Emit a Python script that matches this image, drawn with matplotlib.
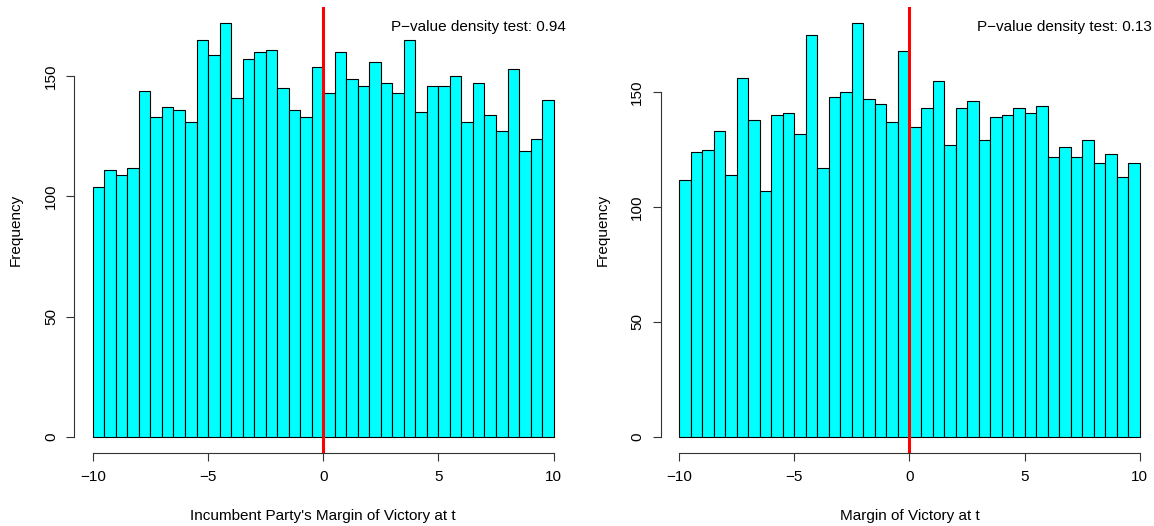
import numpy as np
import matplotlib.pyplot as plt

plt.rcParams["font.family"] = ["Liberation Sans", "DejaVu Sans"]
plt.rcParams["font.size"] = 11

# histogram bins: 40 bins of width 0.5 between -10 and 10
bin_edges = np.linspace(-10, 10, 41)

# left panel: incumbent party's margin of victory at t
incumbent_counts = [
    104, 111, 109, 112, 144, 133, 137, 136, 131, 165,
    159, 172, 141, 157, 160, 161, 145, 136, 133, 154,
    143, 160, 149, 146, 156, 147, 143, 165, 135, 146,
    146, 150, 131, 147, 134, 127, 153, 119, 124, 140,
]
incumbent_pvalue = 0.94

# right panel: margin of victory at t
margin_counts = [
    112, 124, 125, 133, 114, 156, 138, 107, 140, 141,
    132, 175, 117, 148, 150, 180, 147, 145, 137, 168,
    135, 143, 155, 127, 143, 146, 129, 139, 140, 143,
    141, 144, 122, 126, 122, 129, 119, 123, 113, 119,
]
margin_pvalue = 0.13

x_ticks = [-10, -5, 0, 5, 10]
y_ticks = [0, 50, 100, 150]


def plot_margin_histogram(ax, counts, pvalue, xlabel):
    '''
    draw one r-style histogram with a cutoff line at zero
    '''

    counts = np.asarray(counts)
    widths = np.diff(bin_edges)

    ax.bar(
        bin_edges[:-1],
        counts,
        width=widths,
        align="edge",
        color="#00ffff",
        edgecolor="black",
        linewidth=0.8,
        zorder=2,
    )

    ax.axvline(
        0,
        color="red",
        linewidth=2.2,
        zorder=3,
    )

    # r pads the data range by 4% on each side
    x_pad = 0.04 * (bin_edges[-1] - bin_edges[0])
    y_pad = 0.04 * counts.max()
    ax.set_xlim(bin_edges[0] - x_pad, bin_edges[-1] + x_pad)
    ax.set_ylim(-y_pad, counts.max() + y_pad)

    for side in ["top", "right"]:
        ax.spines[side].set_visible(False)
    ax.spines["left"].set_bounds(y_ticks[0], y_ticks[-1])
    ax.spines["bottom"].set_bounds(x_ticks[0], x_ticks[-1])
    for side in ["left", "bottom"]:
        ax.spines[side].set_linewidth(0.8)
        ax.spines[side].set_color("#333333")

    ax.set_xticks(x_ticks)
    ax.set_yticks(y_ticks)
    ax.tick_params(direction="out", length=5.8, width=0.8, color="#333333")
    ax.tick_params(axis="x", pad=6.5)
    ax.tick_params(axis="y", pad=6)
    for label in ax.get_yticklabels():
        label.set_rotation(90)
        label.set_verticalalignment("center")

    ax.set_xlabel(xlabel, labelpad=18)
    ax.set_ylabel("Frequency", labelpad=15)

    ax.text(
        0.988,
        0.955,
        f"P\u2212value density test: {pvalue:.2f}",
        transform=ax.transAxes,
        ha="right",
        va="center",
    )


fig = plt.figure(figsize=(11.54, 5.26), dpi=100)

ax_left = fig.add_axes([0.0645, 0.1382, 0.4312, 0.8489])
ax_right = fig.add_axes([0.5725, 0.1382, 0.4312, 0.8489])

plot_margin_histogram(
    ax_left,
    incumbent_counts,
    incumbent_pvalue,
    "Incumbent Party's Margin of Victory at t",
)

plot_margin_histogram(
    ax_right,
    margin_counts,
    margin_pvalue,
    "Margin of Victory at t",
)

fig.savefig("out.png", dpi=100)
